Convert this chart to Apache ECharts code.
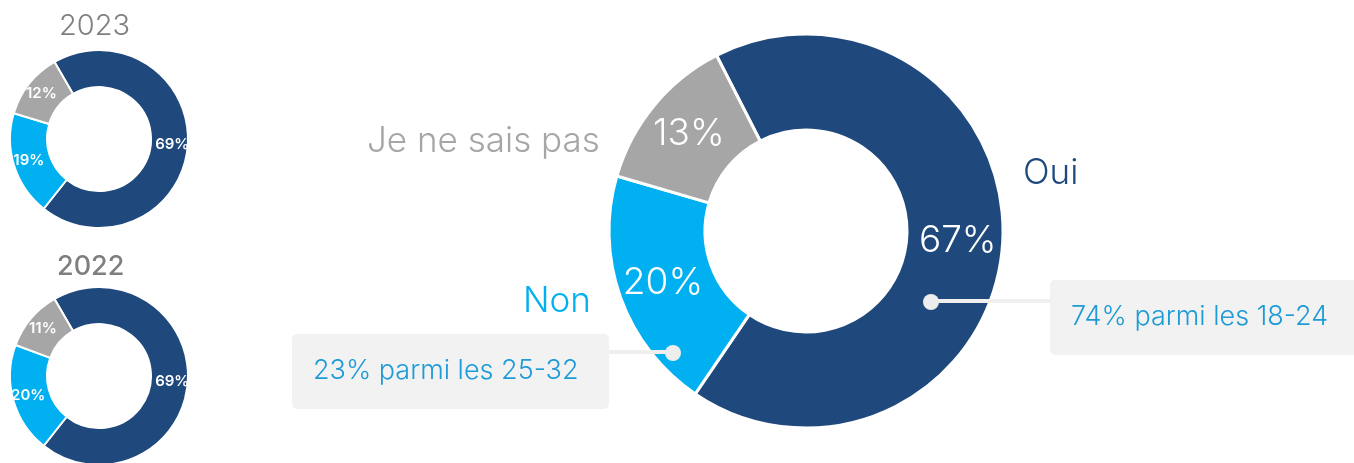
<!DOCTYPE html>
<html>
<head>
<meta charset="utf-8">
<script src="https://cdn.jsdelivr.net/npm/echarts@6/dist/echarts.min.js"></script>
<style>
  html, body { margin: 0; padding: 0; background: #fff; }
  #chart { width: 1354px; height: 463px; }
</style>
</head>
<body>
<div id="chart"></div>
<script>
// data
var categories = ['Oui', 'Non', 'Je ne sais pas'];
var values2024 = [67, 20, 13];
var values2023 = [69, 19, 12];
var values2022 = [69, 20, 11];
var callouts = ['74% parmi les 18-24', '23% parmi les 25-32'];

(function () {
  var myChart = echarts.init(document.getElementById('chart'));

  var colors = ['#1F497D', '#00B0F0', '#A6A6A6'];
  var font = 'Inter, "Noto Sans", sans-serif';

  function toData(vals) {
    return vals.map(function (v, i) {
      return { name: categories[i], value: v };
    });
  }

  // small donuts on the left
  function smallPie(vals, cy) {
    return {
      type: 'pie',
      center: [99, cy],
      radius: [52, 89],
      startAngle: 120,
      silent: true,
      itemStyle: { borderColor: '#fff', borderWidth: 2 },
      label: {
        show: true,
        position: 'inside',
        formatter: '{c}%',
        color: '#fff',
        fontSize: 15,
        fontWeight: 600,
        fontFamily: font
      },
      labelLine: { show: false },
      data: toData(vals)
    };
  }

  var option = {
    color: colors,
    animation: false,
    series: [
      smallPie(values2023, 139),
      smallPie(values2022, 376),
      {
        type: 'pie',
        center: [806, 231],
        radius: [101, 197],
        startAngle: 117,
        silent: true,
        itemStyle: { borderColor: '#fff', borderWidth: 3 },
        label: {
          show: true,
          position: 'inside',
          formatter: '{c}%',
          color: '#fff',
          fontSize: 37,
          fontWeight: 300,
          fontFamily: font
        },
        labelLine: { show: false },
        data: toData(values2024)
      }
    ],
    // titles, category names and the two callouts
    graphic: [
      { type: 'text', left: 59, top: 12, style: { text: '2023', fill: '#808080', font: '300 29px ' + font } },
      { type: 'text', left: 57, top: 253, style: { text: '2022', fill: '#7F7F7F', font: '500 27px ' + font } },

      { type: 'text', left: 1023, top: 156, style: { text: categories[0], fill: colors[0], font: '300 35px ' + font } },
      { type: 'text', left: 523, top: 284, style: { text: categories[1], fill: colors[1], font: '300 35px ' + font } },
      { type: 'text', left: 367, top: 124, style: { text: categories[2], fill: colors[2], font: '300 35px ' + font } },

      // right callout
      { type: 'line', shape: { x1: 931, y1: 301, x2: 1052, y2: 301 }, style: { stroke: '#EFEFEF', lineWidth: 4 }, z: 10 },
      { type: 'circle', shape: { cx: 931, cy: 302, r: 8 }, style: { fill: '#EDEDED' }, z: 11 },
      { type: 'rect', shape: { x: 1050, y: 280, width: 310, height: 75, r: 5 }, style: { fill: '#F2F2F2' }, z: 10 },
      { type: 'text', left: 1071, top: 303, style: { text: callouts[0], fill: '#1E9BD7', font: '300 27px ' + font }, z: 12 },

      // left callout
      { type: 'line', shape: { x1: 607, y1: 352, x2: 673, y2: 352 }, style: { stroke: '#EFEFEF', lineWidth: 4 }, z: 10 },
      { type: 'circle', shape: { cx: 673, cy: 353, r: 8 }, style: { fill: '#EDEDED' }, z: 11 },
      { type: 'rect', shape: { x: 292, y: 334, width: 317, height: 75, r: 5 }, style: { fill: '#F2F2F2' }, z: 10 },
      { type: 'text', left: 313, top: 357, style: { text: callouts[1], fill: '#1E9BD7', font: '300 27px ' + font }, z: 12 }
    ]
  };

  myChart.setOption(option);

  window.addEventListener('resize', function () {
    myChart.resize();
  });
})();
</script>
</body>
</html>
